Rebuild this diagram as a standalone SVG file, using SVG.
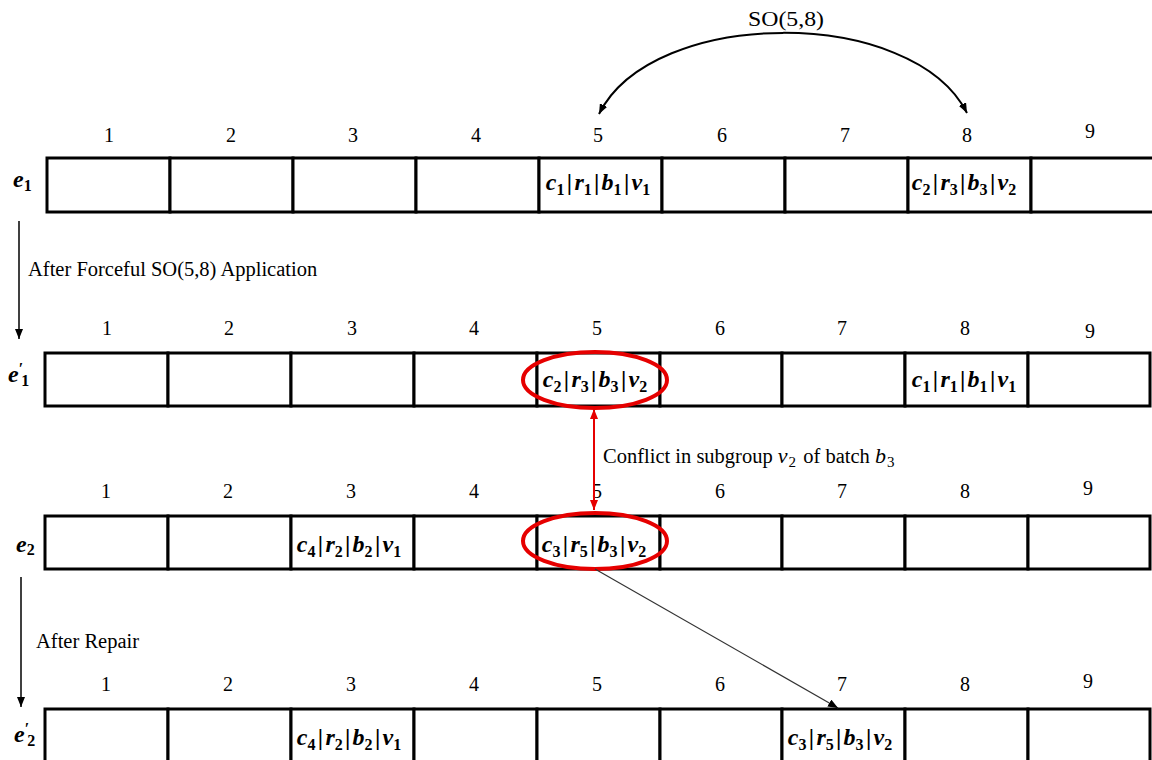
<svg xmlns="http://www.w3.org/2000/svg" width="1152" height="760" viewBox="0 0 1152 760">
<style>
.cell{fill:#fff;stroke:#000;stroke-width:3}
.n{font-family:"Liberation Serif",serif;font-size:20px;text-anchor:middle;fill:#000}
.t{font-family:"Liberation Serif",serif;font-size:20.5px;fill:#000}
.m{font-family:"Liberation Serif",serif;font-weight:bold;font-size:24px;text-anchor:middle;fill:#000}
.lb{font-family:"Liberation Serif",serif;font-weight:bold;font-size:24px;fill:#000}
.i{font-style:italic}
.s{font-size:16px}
.ell{fill:none;stroke:#e60000;stroke-width:4}
</style>
<defs>
<marker id="ab" viewBox="0 0 10 8" refX="10" refY="4" markerWidth="10" markerHeight="8" markerUnits="userSpaceOnUse" orient="auto-start-reverse"><path d="M0,0 L10,4 L0,8 z" fill="#000"/></marker>
<marker id="ar" viewBox="0 0 10 8" refX="10" refY="4" markerWidth="10" markerHeight="8" markerUnits="userSpaceOnUse" orient="auto-start-reverse"><path d="M0,0 L10,4 L0,8 z" fill="#e60000"/></marker>
</defs>

<g id="row-e1">
<rect class="cell" x="47" y="158" width="123" height="54"/>
<rect class="cell" x="170" y="158" width="123" height="54"/>
<rect class="cell" x="293" y="158" width="123" height="54"/>
<rect class="cell" x="416" y="158" width="123" height="54"/>
<rect class="cell" x="539" y="158" width="123" height="54"/>
<rect class="cell" x="662" y="158" width="123" height="54"/>
<rect class="cell" x="785" y="158" width="123" height="54"/>
<rect class="cell" x="908" y="158" width="123" height="54"/>
<rect class="cell" x="1031" y="158" width="123" height="54"/>
<text class="n" x="109" y="142">1</text><text class="n" x="231" y="142">2</text><text class="n" x="353" y="142">3</text><text class="n" x="476" y="142">4</text><text class="n" x="598" y="142">5</text><text class="n" x="722" y="142">6</text><text class="n" x="845" y="142">7</text><text class="n" x="967" y="142">8</text><text class="n" x="1090" y="138">9</text>
<text class="lb" x="13" y="187"><tspan class="i">e</tspan><tspan class="s" dy="4">1</tspan></text>
<text class="m" x="598" y="190"><tspan class="i">c</tspan><tspan class="s" dy="5">1</tspan><tspan dy="-5" dx="2.3">|</tspan><tspan class="i" dx="2.3">r</tspan><tspan class="s" dy="5">1</tspan><tspan dy="-5" dx="2.3">|</tspan><tspan class="i" dx="2.3">b</tspan><tspan class="s" dy="5">1</tspan><tspan dy="-5" dx="2.3">|</tspan><tspan class="i" dx="2.3">v</tspan><tspan class="s" dy="5">1</tspan></text>
<text class="m" x="964" y="190"><tspan class="i">c</tspan><tspan class="s" dy="5">2</tspan><tspan dy="-5" dx="2.3">|</tspan><tspan class="i" dx="2.3">r</tspan><tspan class="s" dy="5">3</tspan><tspan dy="-5" dx="2.3">|</tspan><tspan class="i" dx="2.3">b</tspan><tspan class="s" dy="5">3</tspan><tspan dy="-5" dx="2.3">|</tspan><tspan class="i" dx="2.3">v</tspan><tspan class="s" dy="5">2</tspan></text>
</g>

<g id="row-e1p">
<rect class="cell" x="45" y="353" width="123" height="53"/>
<rect class="cell" x="168" y="353" width="123" height="53"/>
<rect class="cell" x="291" y="353" width="123" height="53"/>
<rect class="cell" x="414" y="353" width="123" height="53"/>
<rect class="cell" x="537" y="353" width="123" height="53"/>
<rect class="cell" x="660" y="353" width="122" height="53"/>
<rect class="cell" x="782" y="353" width="123" height="53"/>
<rect class="cell" x="905" y="353" width="123" height="53"/>
<rect class="cell" x="1028" y="353" width="122" height="53"/>
<text class="n" x="107" y="335">1</text><text class="n" x="229" y="335">2</text><text class="n" x="352" y="335">3</text><text class="n" x="474" y="335">4</text><text class="n" x="597" y="335">5</text><text class="n" x="720" y="335">6</text><text class="n" x="842" y="335">7</text><text class="n" x="965" y="335">8</text><text class="n" x="1090" y="338">9</text>
<text class="lb" x="8" y="382"><tspan class="i">e</tspan><tspan class="s" dy="-8">′</tspan><tspan class="s" dx="-2" dy="12">1</tspan></text>
<text class="m" x="595" y="387"><tspan class="i">c</tspan><tspan class="s" dy="5">2</tspan><tspan dy="-5" dx="2.3">|</tspan><tspan class="i" dx="2.3">r</tspan><tspan class="s" dy="5">3</tspan><tspan dy="-5" dx="2.3">|</tspan><tspan class="i" dx="2.3">b</tspan><tspan class="s" dy="5">3</tspan><tspan dy="-5" dx="2.3">|</tspan><tspan class="i" dx="2.3">v</tspan><tspan class="s" dy="5">2</tspan></text>
<text class="m" x="964" y="387"><tspan class="i">c</tspan><tspan class="s" dy="5">1</tspan><tspan dy="-5" dx="2.3">|</tspan><tspan class="i" dx="2.3">r</tspan><tspan class="s" dy="5">1</tspan><tspan dy="-5" dx="2.3">|</tspan><tspan class="i" dx="2.3">b</tspan><tspan class="s" dy="5">1</tspan><tspan dy="-5" dx="2.3">|</tspan><tspan class="i" dx="2.3">v</tspan><tspan class="s" dy="5">1</tspan></text>
<ellipse class="ell" cx="595" cy="380" rx="72" ry="28"/>
</g>

<g id="row-e2">
<rect class="cell" x="45" y="516" width="123" height="53"/>
<rect class="cell" x="168" y="516" width="123" height="53"/>
<rect class="cell" x="291" y="516" width="123" height="53"/>
<rect class="cell" x="414" y="516" width="123" height="53"/>
<rect class="cell" x="537" y="516" width="123" height="53"/>
<rect class="cell" x="660" y="516" width="122" height="53"/>
<rect class="cell" x="782" y="516" width="123" height="53"/>
<rect class="cell" x="905" y="516" width="123" height="53"/>
<rect class="cell" x="1028" y="516" width="122" height="53"/>
<text class="n" x="106" y="498">1</text><text class="n" x="228" y="498">2</text><text class="n" x="351" y="498">3</text><text class="n" x="474" y="498">4</text><text class="n" x="597" y="498">5</text><text class="n" x="720" y="498">6</text><text class="n" x="842" y="498">7</text><text class="n" x="965" y="498">8</text><text class="n" x="1088" y="495">9</text>
<text class="lb" x="16" y="552"><tspan class="i">e</tspan><tspan class="s" dy="3">2</tspan></text>
<text class="m" x="349" y="552"><tspan class="i">c</tspan><tspan class="s" dy="5">4</tspan><tspan dy="-5" dx="2.3">|</tspan><tspan class="i" dx="2.3">r</tspan><tspan class="s" dy="5">2</tspan><tspan dy="-5" dx="2.3">|</tspan><tspan class="i" dx="2.3">b</tspan><tspan class="s" dy="5">2</tspan><tspan dy="-5" dx="2.3">|</tspan><tspan class="i" dx="2.3">v</tspan><tspan class="s" dy="5">1</tspan></text>
<text class="m" x="594" y="552"><tspan class="i">c</tspan><tspan class="s" dy="5">3</tspan><tspan dy="-5" dx="2.3">|</tspan><tspan class="i" dx="2.3">r</tspan><tspan class="s" dy="5">5</tspan><tspan dy="-5" dx="2.3">|</tspan><tspan class="i" dx="2.3">b</tspan><tspan class="s" dy="5">3</tspan><tspan dy="-5" dx="2.3">|</tspan><tspan class="i" dx="2.3">v</tspan><tspan class="s" dy="5">2</tspan></text>
<ellipse class="ell" cx="595" cy="541" rx="72" ry="28"/>
</g>

<g id="row-e2p">
<rect class="cell" x="45" y="709" width="123" height="56"/>
<rect class="cell" x="168" y="709" width="123" height="56"/>
<rect class="cell" x="291" y="709" width="123" height="56"/>
<rect class="cell" x="414" y="709" width="123" height="56"/>
<rect class="cell" x="537" y="709" width="123" height="56"/>
<rect class="cell" x="660" y="709" width="122" height="56"/>
<rect class="cell" x="782" y="709" width="123" height="56"/>
<rect class="cell" x="905" y="709" width="123" height="56"/>
<rect class="cell" x="1028" y="709" width="122" height="56"/>
<text class="n" x="106" y="691">1</text><text class="n" x="228" y="691">2</text><text class="n" x="351" y="691">3</text><text class="n" x="474" y="691">4</text><text class="n" x="597" y="691">5</text><text class="n" x="720" y="691">6</text><text class="n" x="842" y="691">7</text><text class="n" x="965" y="691">8</text><text class="n" x="1088" y="688">9</text>
<text class="lb" x="14" y="742"><tspan class="i">e</tspan><tspan class="s" dy="-8">′</tspan><tspan class="s" dx="-2" dy="12">2</tspan></text>
<text class="m" x="349" y="745"><tspan class="i">c</tspan><tspan class="s" dy="5">4</tspan><tspan dy="-5" dx="2.3">|</tspan><tspan class="i" dx="2.3">r</tspan><tspan class="s" dy="5">2</tspan><tspan dy="-5" dx="2.3">|</tspan><tspan class="i" dx="2.3">b</tspan><tspan class="s" dy="5">2</tspan><tspan dy="-5" dx="2.3">|</tspan><tspan class="i" dx="2.3">v</tspan><tspan class="s" dy="5">1</tspan></text>
<text class="m" x="840" y="745"><tspan class="i">c</tspan><tspan class="s" dy="5">3</tspan><tspan dy="-5" dx="2.3">|</tspan><tspan class="i" dx="2.3">r</tspan><tspan class="s" dy="5">5</tspan><tspan dy="-5" dx="2.3">|</tspan><tspan class="i" dx="2.3">b</tspan><tspan class="s" dy="5">3</tspan><tspan dy="-5" dx="2.3">|</tspan><tspan class="i" dx="2.3">v</tspan><tspan class="s" dy="5">2</tspan></text>
</g>

<g id="connectors">
<path d="M599,114 C653,6 913,6 967,113" fill="none" stroke="#000" stroke-width="2" marker-start="url(#ab)" marker-end="url(#ab)"/>
<text x="748" y="26" font-family="Liberation Serif, serif" font-size="22" textLength="76" lengthAdjust="spacingAndGlyphs" fill="#000">SO(5,8)</text>
<line x1="19" y1="221" x2="19" y2="339" stroke="#000" stroke-width="1.5" marker-end="url(#ab)"/>
<text class="t" x="28" y="276">After Forceful SO(5,8) Application</text>
<line x1="594" y1="409" x2="594" y2="510" stroke="#e60000" stroke-width="2" marker-start="url(#ar)" marker-end="url(#ar)"/>
<text class="t" x="603" y="463">Conflict in subgroup <tspan class="i" font-size="22">v</tspan><tspan font-size="15" dx="1" dy="4">2</tspan><tspan dy="-4" dx="2"> of batch </tspan><tspan class="i" font-size="22">b</tspan><tspan font-size="15" dx="1" dy="4">3</tspan></text>
<line x1="595" y1="569" x2="838" y2="708" stroke="#333" stroke-width="1.2" marker-end="url(#ab)"/>
<line x1="21" y1="577" x2="21" y2="707" stroke="#000" stroke-width="1.5" marker-end="url(#ab)"/>
<text class="t" x="36" y="648">After Repair</text>
</g>
</svg>
